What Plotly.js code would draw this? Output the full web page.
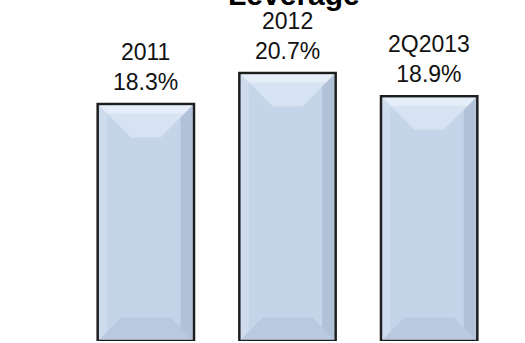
<!DOCTYPE html>
<html>
<head>
<meta charset="utf-8">
<script src="https://cdn.plot.ly/plotly-3.0.1.min.js"></script>
<style>html,body{margin:0;padding:0;background:#fff;}#chart{width:525px;height:343px;}</style>
</head>
<body>
<div id="chart"></div>
<script>
const categories = ["2011", "2012", "2Q2013"];
const values = [18.3, 20.7, 18.9];
const labels = ["18.3%", "20.7%", "18.9%"];
const chartTitle = "Leverage";

const W = 525, H = 343;
const margin = {l: 75, r: 25, t: 0, b: 2};
const yMax = 26.33;
const plotW = W - margin.l - margin.r;
const plotH = H - margin.t - margin.b;
const pxX = 3 / plotW;
const pxY = yMax / plotH;
const bargap = 0.32;
const hw = (1 - bargap) / 2;

const shapes = [];
values.forEach((v, i) => {
  const inset = 1.5;
  const xl = i - hw + inset * pxX, xr = i + hw - inset * pxX;
  const yt = v - inset * pxY, yb = 0 + inset * pxY;
  const d = 32;
  const dx = d * pxX, dyT = d * pxY, dyB = 22 * pxY;
  shapes.push({type: "path", xref: "x", yref: "y", layer: "above",
    path: `M ${xl} ${yt} L ${xr} ${yt} L ${xr - dx} ${yt - dyT} L ${xl + dx} ${yt - dyT} Z`,
    fillcolor: "#eaf1fa", opacity: 0.5, line: {width: 0}});
  shapes.push({type: "path", xref: "x", yref: "y", layer: "above",
    path: `M ${xl} ${yt} L ${xr} ${yt} L ${xr - 8 * pxX} ${yt - 8 * pxY} L ${xl + 8 * pxX} ${yt - 8 * pxY} Z`,
    fillcolor: "#f4f8fd", opacity: 0.5, line: {width: 0}});
  shapes.push({type: "path", xref: "x", yref: "y", layer: "above",
    path: `M ${xl} ${yb} L ${xr} ${yb} L ${xr - 22 * pxX} ${yb + dyB} L ${xl + 22 * pxX} ${yb + dyB} Z`,
    fillcolor: "#9fb0c6", opacity: 0.3, line: {width: 0}});
  shapes.push({type: "path", xref: "x", yref: "y", layer: "above",
    path: `M ${xr} ${yt} L ${xr} ${yb} L ${xr - 12 * pxX} ${yb + 12 * pxY} L ${xr - 12 * pxX} ${yt - 12 * pxY} Z`,
    fillcolor: "#8e9fb6", opacity: 0.35, line: {width: 0}});
  shapes.push({type: "path", xref: "x", yref: "y", layer: "above",
    path: `M ${xl} ${yt} L ${xl} ${yb} L ${xl + 8 * pxX} ${yb + 8 * pxY} L ${xl + 8 * pxX} ${yt - 8 * pxY} Z`,
    fillcolor: "#e3ecf7", opacity: 0.35, line: {width: 0}});
});

const annotations = values.map((v, i) => ({
  x: i, y: v, xref: "x", yref: "y",
  text: categories[i] + "<br>" + labels[i],
  showarrow: false, yanchor: "bottom", yshift: 7,
  font: {family: "Liberation Sans, Arial, sans-serif", size: 23, color: "#111"}
}));
annotations.push({
  xref: "paper", yref: "paper", x: 0.5, y: 1, xanchor: "center", yanchor: "middle",
  yshift: 6, xshift: 6, showarrow: false, text: "<b>" + chartTitle + "</b>",
  font: {family: "Liberation Sans, Arial, sans-serif", size: 30, color: "#000"}
});

const trace = {
  type: "bar", x: categories, y: values,
  marker: {color: "#c4d5ea", line: {color: "#1e1e1e", width: 2.5}},
  hoverinfo: "none"
};

const layout = {
  width: W, height: H, margin: margin,
  paper_bgcolor: "#fff", plot_bgcolor: "#fff",
  showlegend: false, bargap: bargap,
  xaxis: {visible: false, type: "category", range: [-0.5, 2.5]},
  yaxis: {visible: false, range: [0, yMax]},
  shapes: shapes, annotations: annotations
};

Plotly.newPlot("chart", [trace], layout, {staticPlot: true});
</script>
</body>
</html>
